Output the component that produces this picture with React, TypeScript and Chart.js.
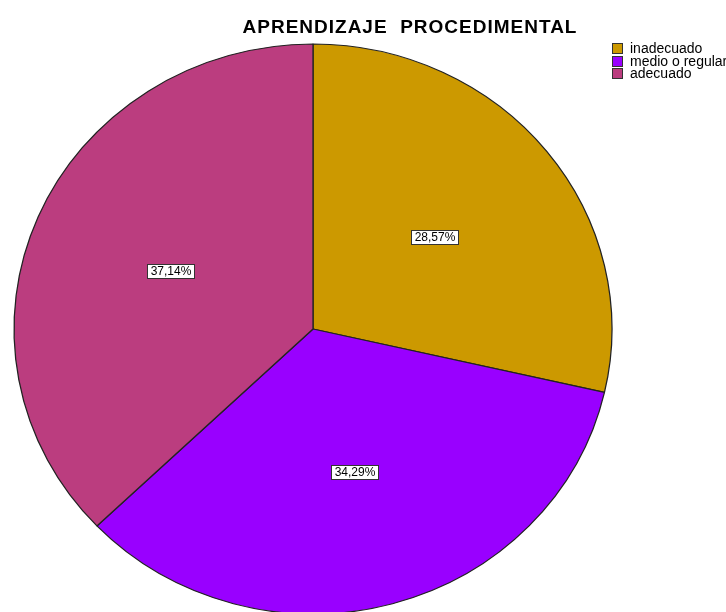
import React, { useEffect, useRef } from "react";
import { Chart, registerables } from "chart.js";

Chart.register(...registerables);

const TITLE = "APRENDIZAJE  PROCEDIMENTAL";
const CATEGORIES = ["inadecuado", "medio o regular", "adecuado"];
const COUNTS = [10, 12, 13];
const COLORS = ["#CC9900", "#9900FF", "#BB3D7F"];

const SCALE_X = 1.049;
const FONT = '"Liberation Sans", Arial, sans-serif';

const ellipsePlugin = {
  id: "ellipse",
  beforeDatasetsDraw(chart: any) {
    const meta = chart.getDatasetMeta(0);
    const el = meta.data[0];
    if (!el) return;
    const ctx = chart.ctx;
    ctx.save();
    ctx.translate(el.x, 0);
    ctx.scale(SCALE_X, 1);
    ctx.translate(-el.x, 0);
  },
  afterDatasetsDraw(chart: any) {
    const ctx = chart.ctx;
    ctx.restore();
    const meta = chart.getDatasetMeta(0);
    const data = chart.data.datasets[0].data as number[];
    const total = data.reduce((a, b) => a + b, 0);
    ctx.save();
    ctx.font = `12px ${FONT}`;
    ctx.textAlign = "center";
    ctx.textBaseline = "middle";
    meta.data.forEach((el: any, i: number) => {
      const mid = (el.startAngle + el.endAngle) / 2;
      const r = el.outerRadius * 0.52;
      const px = el.x + Math.cos(mid) * r * SCALE_X;
      const py = el.y + Math.sin(mid) * r;
      const txt = ((data[i] / total) * 100).toFixed(2).replace(".", ",") + "%";
      const w = Math.round(ctx.measureText(txt).width + 6);
      const h = 14;
      const bx = Math.round(px - w / 2) + 0.5;
      const by = Math.round(py - h / 2) + 0.5;
      ctx.fillStyle = "#FFFFFF";
      ctx.fillRect(bx, by, w, h);
      ctx.strokeStyle = "#333333";
      ctx.lineWidth = 1;
      ctx.strokeRect(bx, by, w, h);
      ctx.fillStyle = "#000000";
      ctx.fillText(txt, bx + w / 2, by + h / 2 + 0.5);
    });
    ctx.restore();
  },
  afterDraw(chart: any) {
    const ctx = chart.ctx;
    ctx.save();
    // title
    ctx.font = `bold 19px ${FONT}`;
    (ctx as any).letterSpacing = "1px";
    ctx.fillStyle = "#000000";
    ctx.textAlign = "center";
    ctx.textBaseline = "alphabetic";
    ctx.fillText(TITLE, 410, 33);
    (ctx as any).letterSpacing = "0px";
    // legend
    ctx.font = `14px ${FONT}`;
    ctx.textAlign = "left";
    ctx.textBaseline = "middle";
    const labels = chart.data.labels as string[];
    const colors = chart.data.datasets[0].backgroundColor as string[];
    labels.forEach((lab, i) => {
      const y = 43 + i * 12.5;
      const yy = Math.round(y) + 0.5;
      ctx.fillStyle = colors[i];
      ctx.fillRect(612.5, yy, 10, 10);
      ctx.strokeStyle = "#333333";
      ctx.lineWidth = 1;
      ctx.strokeRect(612.5, yy, 10, 10);
      ctx.fillStyle = "#000000";
      ctx.fillText(lab, 630, yy + 5.5);
    });
    ctx.restore();
  },
};

export default function App() {
  const ref = useRef<HTMLCanvasElement>(null);
  useEffect(() => {
    document.body.style.margin = "0";
    const canvas = ref.current!;
    const chart = new Chart(canvas, {
      type: "pie",
      data: {
        labels: CATEGORIES,
        datasets: [
          {
            data: COUNTS,
            backgroundColor: COLORS,
            borderColor: "#222222",
            borderWidth: 1.2,
          },
        ],
      },
      options: {
        responsive: false,
        animation: false,
        devicePixelRatio: 1,
        radius: 285,
        layout: { padding: { left: 0, right: 100, top: 46, bottom: 0 } },
        plugins: {
          legend: { display: false },
          title: { display: false },
          tooltip: { enabled: false },
        },
      } as any,
      plugins: [ellipsePlugin],
    });
    return () => chart.destroy();
  }, []);
  return (
    <div style={{ position: "relative", width: 726, height: 612, overflow: "hidden", background: "#fff" }}>
      <canvas ref={ref} width={726} height={612} style={{ display: "block" }} />
    </div>
  );
}
